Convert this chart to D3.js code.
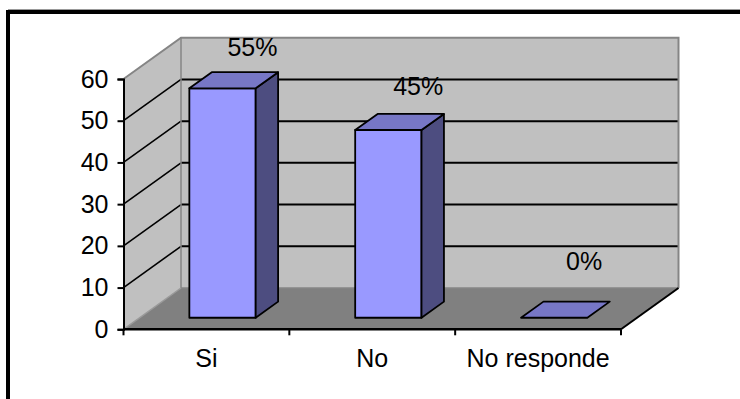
<!DOCTYPE html>
<html>
<head>
<meta charset="utf-8">
<script src="https://cdn.jsdelivr.net/npm/d3@7"></script>
<style>
  html, body { margin: 0; padding: 0; background: #fff; }
  svg { display: block; }
  text { font-family: "Liberation Sans", Arial, sans-serif; fill: #000; }
</style>
</head>
<body>
<svg id="chart" width="740" height="399"></svg>
<script>
// Survey answers and their share (percent)
const categories = ["Si", "No", "No responde"];
const values = [55, 45, 0];
const valueLabels = ["55%", "45%", "0%"];
const yTicks = [0, 10, 20, 30, 40, 50, 60];

const FONT = "25px";
const svg = d3.select("#chart");

// Front plane of the 3D box and its depth offset
const front = { x0: 123.5, x1: 621, y0: 329.3, y1: 79 };
const depth = { dx: 57.5, dy: -41.3 };

const x = d3.scaleBand().domain(categories).range([front.x0, front.x1]).padding(0);
const y = d3.scaleLinear().domain([0, 60]).range([front.y0, front.y1]);
// data labels float above the bars, slightly behind them
const yLabel = d3.scaleLinear().domain([0, 60]).range([270.2, 36.4]);

const line = d3.line();
const poly = pts => line(pts) + "Z";
const back = (px, py, f = 1) => [px + depth.dx * f, py + depth.dy * f];

// outer frame
svg.append("line").attr("x1", 8).attr("x2", 740).attr("y1", 9.5).attr("y2", 9.5)
  .attr("stroke", "#999").attr("stroke-width", 1);
svg.append("rect")
  .attr("x", 8).attr("y", 12).attr("width", 800).attr("height", 500)
  .attr("fill", "none").attr("stroke", "#000").attr("stroke-width", 4);

const g = svg.append("g");

// side wall (left)
g.append("path")
  .attr("d", poly([[front.x0, y(0)], [front.x0, y(60)], back(front.x0, y(60)), back(front.x0, y(0))]))
  .attr("fill", "#C0C0C0").attr("stroke", "none");

// back wall
g.append("path")
  .attr("d", poly([back(front.x0, y(0)), back(front.x0, y(60)), back(front.x1, y(60)), back(front.x1, y(0))]))
  .attr("fill", "#C0C0C0").attr("stroke", "none");

// floor
g.append("path")
  .attr("d", poly([[front.x0, y(0)], [front.x1, y(0)], back(front.x1, y(0)), back(front.x0, y(0))]))
  .attr("fill", "#808080").attr("stroke", "none");

// gridlines: across the back wall and diagonally across the side wall
const inner = yTicks.filter(t => t > 0 && t < 60);
inner.forEach(t => {
  const [bx, by] = back(front.x0, y(t));
  const [ex, ey] = back(front.x1, y(t));
  g.append("path").attr("d", line([[bx, by], [ex, ey]]))
    .attr("stroke", "#000").attr("stroke-width", 2).attr("fill", "none");
  g.append("path").attr("d", line([[front.x0, y(t)], [bx, by]]))
    .attr("stroke", "#000").attr("stroke-width", 1.6).attr("fill", "none");
});

// wall edges
const edgeGray = "#858585";
g.append("path")
  .attr("d", line([[front.x0, y(60)], back(front.x0, y(60)), back(front.x1, y(60)), back(front.x1, y(0))]))
  .attr("stroke", edgeGray).attr("stroke-width", 2).attr("fill", "none");
g.append("path")
  .attr("d", line([back(front.x0, y(60)), back(front.x0, y(0)), back(front.x1, y(0))]))
  .attr("stroke", edgeGray).attr("stroke-width", 1.5).attr("fill", "none");
g.append("path")
  .attr("d", line([[front.x0, y(0)], back(front.x0, y(0))]))
  .attr("stroke", "#9a9a9a").attr("stroke-width", 1.5).attr("fill", "none");
g.append("path")
  .attr("d", line([[front.x1, y(0)], back(front.x1, y(0))]))
  .attr("stroke", "#000").attr("stroke-width", 2).attr("fill", "none");

// y axis
const yAxis = d3.axisLeft(y).tickValues(yTicks).tickSize(6).tickPadding(9).tickFormat(d3.format("d"));
const ya = svg.append("g").attr("transform", `translate(${front.x0},0)`).call(yAxis);
ya.attr("font-size", null).attr("font-family", null);
ya.select(".domain").attr("stroke", "#000").attr("stroke-width", 2);
ya.selectAll(".tick line").attr("stroke", "#000").attr("stroke-width", 2);
ya.selectAll(".tick text")
  .style("font-size", FONT)
  .attr("fill", "#000");

// x axis with ticks at band boundaries
const xa = svg.append("g").attr("transform", `translate(0,${front.y0})`);
xa.append("path").attr("d", line([[front.x0, 0], [front.x1, 0]]))
  .attr("stroke", "#000").attr("stroke-width", 2.5);
const bounds = categories.map(c => x(c)).concat([front.x1]);
xa.selectAll("line.tk").data(bounds).join("line")
  .attr("x1", d => d).attr("x2", d => d).attr("y1", 0).attr("y2", 6)
  .attr("stroke", "#000").attr("stroke-width", 2);
xa.selectAll("text").data(categories).join("text")
  .attr("x", d => x(d) + x.bandwidth() / 2)
  .attr("y", 38)
  .attr("text-anchor", "middle")
  .style("font-size", FONT)
  .text(d => d);

// 3D bars
const barW = x.bandwidth() * 0.4;
const setback = 0.28;   // distance of the bar front behind the front plane
const barDepth = 0.39;  // bar thickness as a share of the box depth
const bars = svg.append("g");
categories.forEach((c, i) => {
  const v = values[i];
  const fx0 = x(c) + (x.bandwidth() - barW) / 2;
  const [ax0, ay0] = back(fx0, y(0), setback);
  const [ax1, ayT] = back(fx0 + barW, y(v), setback);
  const ddx = depth.dx * barDepth, ddy = depth.dy * barDepth;
  const add = (pts, fill) => bars.append("path").attr("d", poly(pts)).attr("fill", fill)
    .attr("stroke", "#000").attr("stroke-width", 1.8).attr("stroke-linejoin", "round");
  if (v > 0) {
    // front face
    add([[ax0, ay0], [ax0, ayT], [ax1, ayT], [ax1, ay0]], "#9999FF");
    // right side
    add([[ax1, ay0], [ax1, ayT], [ax1 + ddx, ayT + ddy], [ax1 + ddx, ay0 + ddy]], "#4D4D80");
  }
  // top face
  add([[ax0, ayT], [ax1, ayT], [ax1 + ddx, ayT + ddy], [ax0 + ddx, ayT + ddy]], "#7777C6");

  // value label
  svg.append("text")
    .attr("x", x(c) + x.bandwidth() / 2 + depth.dx * 0.8)
    .attr("y", yLabel(v))
    .attr("text-anchor", "middle")
    .style("font-size", FONT)
    .text(valueLabels[i]);
});
</script>
</body>
</html>
